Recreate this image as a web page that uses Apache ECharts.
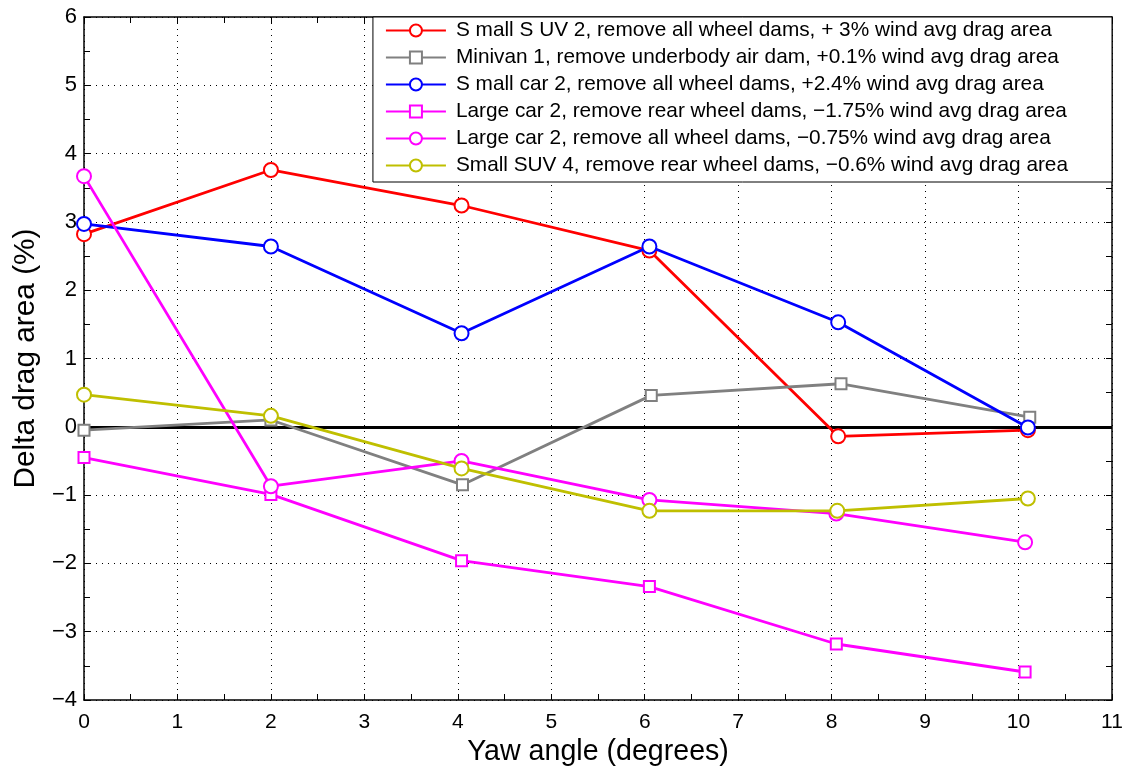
<!DOCTYPE html>
<html>
<head>
<meta charset="utf-8">
<script src="https://cdn.jsdelivr.net/npm/echarts@6/dist/echarts.min.js"></script>
<style>
  html, body { margin: 0; padding: 0; background: #fff; }
  #main { width: 1130px; height: 767px; }
</style>
</head>
<body>
<div id="main"></div>
<script>
// legend names
const seriesNames = [
  'S mall S UV 2, remove all wheel dams, + 3% wind avg drag area',
  'Minivan 1, remove underbody air dam, +0.1% wind avg drag area',
  'S mall car 2, remove all wheel dams, +2.4% wind avg drag area',
  'Large car 2, remove rear wheel dams, \u22121.75% wind avg drag area',
  'Large car 2, remove all wheel dams, \u22120.75% wind avg drag area',
  'Small SUV 4, remove rear wheel dams, \u22120.6% wind avg drag area'
]

// yaw angles (deg) and delta drag area (%) per series
const suv2Yaw = [0, 2, 4.04, 6.05, 8.07, 10.1]
const suv2Delta = [2.82, 3.76, 3.24, 2.58, -0.14, -0.05]

const minivanYaw = [0, 2, 4.05, 6.07, 8.1, 10.12]
const minivanDelta = [-0.05, 0.1, -0.85, 0.46, 0.63, 0.14]

const smallCarYaw = [0, 2, 4.04, 6.05, 8.07, 10.1]
const smallCarDelta = [2.97, 2.64, 1.37, 2.64, 1.53, -0.01]

const largeRearYaw = [0, 2, 4.04, 6.05, 8.05, 10.07]
const largeRearDelta = [-0.45, -0.99, -1.96, -2.34, -3.18, -3.59]

const largeAllYaw = [0, 2, 4.04, 6.05, 8.05, 10.07]
const largeAllDelta = [3.67, -0.87, -0.5, -1.07, -1.27, -1.69]

const suv4Yaw = [0, 2, 4.04, 6.05, 8.06, 10.1]
const suv4Delta = [0.47, 0.16, -0.61, -1.23, -1.23, -1.05]

const colors = ['#ff0000', '#808080', '#0000ff', '#ff00ff', '#ff00ff', '#bfbf00']
const symbols = ['emptyCircle', 'emptyRect', 'emptyCircle', 'emptyRect', 'emptyCircle', 'emptyCircle']

const pairs = (xs, ys) => xs.map((x, i) => [x, ys[i]])
const seriesData = [
  pairs(suv2Yaw, suv2Delta),
  pairs(minivanYaw, minivanDelta),
  pairs(smallCarYaw, smallCarDelta),
  pairs(largeRearYaw, largeRearDelta),
  pairs(largeAllYaw, largeAllDelta),
  pairs(suv4Yaw, suv4Delta)
]

const fontFamily = 'Liberation Sans, Arial, Helvetica, sans-serif'
const minus = (v) => String(v).replace('-', '\u2212')

const chart = echarts.init(document.getElementById('main'))

const series = seriesNames.map((name, i) => {
  const s = {
    name,
    type: 'line',
    data: seriesData[i],
    symbol: symbols[i],
    symbolSize: symbols[i] === 'emptyRect' ? 11 : 14,
    showAllSymbol: true,
    color: colors[i],
    lineStyle: { width: 2.8, color: colors[i] },
    itemStyle: { color: colors[i], borderWidth: 2.2 },
    z: 3 + i
  }
  if (i === 0) {
    s.markLine = {
      silent: true,
      symbol: 'none',
      label: { show: false },
      lineStyle: { color: '#000', width: 3, type: 'solid' },
      data: [{ yAxis: 0 }],
      z: 2
    }
  }
  return s
})

const baseTick = { show: true, inside: true, length: 6, lineStyle: { color: '#000' } }
const minorTick = { show: true, splitNumber: 2, length: 6, lineStyle: { color: '#000' } }
const dotted = { show: true, lineStyle: { color: '#000', type: [1, 5], width: 1 } }

const option = {
  animation: false,
  backgroundColor: '#fff',
  textStyle: { fontFamily },
  grid: { left: 84, right: 18, top: 17, bottom: 67, outerBoundsMode: 'none' },
  legend: {
    orient: 'vertical',
    right: 18,
    top: 17,
    padding: [3, 44, 6, 12],
    itemGap: 6,
    itemWidth: 60,
    itemHeight: 15,
    backgroundColor: '#fff',
    borderColor: '#000',
    borderWidth: 1,
    borderRadius: 0,
    textStyle: { fontSize: 20.8, color: '#000', fontFamily, padding: [0, 0, 0, 5] },
    data: seriesNames
  },
  xAxis: [{
    type: 'value',
    min: 0,
    max: 11,
    interval: 1,
    name: 'Yaw angle (degrees)',
    nameLocation: 'middle',
    nameGap: 38,
    nameTextStyle: { fontSize: 28.6, color: '#000', fontFamily },
    axisLine: { onZero: false, lineStyle: { color: '#000', width: 1.5 } },
    axisTick: baseTick,
    minorTick,
    axisLabel: { fontSize: 21, color: '#000', margin: 12 },
    splitLine: dotted
  }, {
    type: 'value',
    position: 'top',
    min: 0,
    max: 11,
    interval: 1,
    axisLine: { onZero: false, lineStyle: { color: '#000', width: 1.5 } },
    axisTick: baseTick,
    minorTick,
    axisLabel: { show: false },
    splitLine: { show: false }
  }],
  yAxis: [{
    type: 'value',
    min: -4,
    max: 6,
    interval: 1,
    name: 'Delta drag area (%)',
    nameLocation: 'middle',
    nameGap: 42,
    nameTextStyle: { fontSize: 29.8, color: '#000', fontFamily },
    axisLine: { show: true, onZero: false, lineStyle: { color: '#000', width: 1.5 } },
    axisTick: baseTick,
    minorTick,
    axisLabel: { fontSize: 22, color: '#000', margin: 7, formatter: minus },
    splitLine: dotted
  }, {
    type: 'value',
    position: 'right',
    min: -4,
    max: 6,
    interval: 1,
    axisLine: { show: true, onZero: false, lineStyle: { color: '#000', width: 1.5 } },
    axisTick: baseTick,
    minorTick,
    axisLabel: { show: false },
    splitLine: { show: false }
  }],
  series
}

chart.setOption(option)
</script>
</body>
</html>
